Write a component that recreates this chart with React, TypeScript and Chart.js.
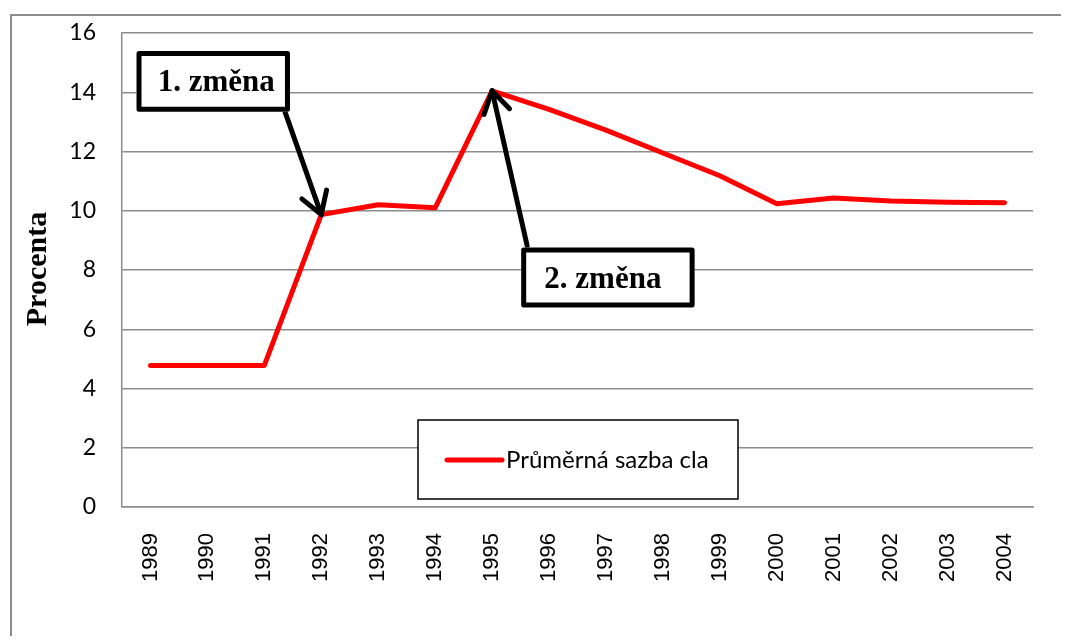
import React, { useEffect, useRef } from "react";
import { Chart, registerables } from "chart.js";

Chart.register(...registerables);

const years = ["1989", "1990", "1991", "1992", "1993", "1994", "1995", "1996", "1997", "1998", "1999", "2000", "2001", "2002", "2003", "2004"];
const averageTariff = [4.78, 4.78, 4.78, 9.87, 10.2, 10.1, 14.05, 13.42, 12.72, 11.95, 11.18, 10.24, 10.43, 10.33, 10.29, 10.27];
const yTicks = [0, 2, 4, 6, 8, 10, 12, 14, 16];
const seriesLabel = "Průměrná sazba cla";
const yTitle = "Procenta";

// annotations: text, box (index/value), tail (index/value), tip = data point index
const annotations = [
  { text: "1. změna", box: [-0.245, 15.39, 2.45, 13.34], tail: [2.363, 13.34], tipIndex: 3, dx: 3 },
  { text: "2. změna", box: [6.511, 8.757, 9.557, 6.736], tail: [6.616, 8.82], tipIndex: 6, dx: -5 },
];

const W = 1053;
const H = 628;

export default function App() {
  const ref = useRef<HTMLCanvasElement>(null);
  useEffect(() => {
    const canvas = ref.current!;
    const overlay = {
      id: "overlay",
      afterDraw(chart: any) {
        const ctx = chart.ctx as CanvasRenderingContext2D;
        const xs = chart.scales.x;
        const ys = chart.scales.y;
        ctx.save();
        // outer frame
        ctx.strokeStyle = "#8c8c8c";
        ctx.lineWidth = 2;
        ctx.beginPath();
        ctx.moveTo(3, H + 5);
        ctx.lineTo(3, 7);
        ctx.lineTo(W + 5, 7);
        ctx.stroke();

        // y title
        ctx.save();
        ctx.translate(30, 261);
        ctx.rotate(-Math.PI / 2);
        ctx.fillStyle = "#000";
        ctx.font = "bold 30px 'Liberation Serif'";
        ctx.textAlign = "center";
        ctx.textBaseline = "middle";
        ctx.fillText(yTitle, 0, 0);
        ctx.restore();

        // legend
        const lx = 410, ly = 412, lw = 320, lh = 79;
        ctx.fillStyle = "#fff";
        ctx.fillRect(lx, ly, lw, lh);
        ctx.strokeStyle = "#000";
        ctx.lineWidth = 1.5;
        ctx.strokeRect(lx, ly, lw, lh);
        ctx.strokeStyle = "#ff0000";
        ctx.lineWidth = 5;
        ctx.lineCap = "round";
        ctx.beginPath();
        ctx.moveTo(lx + 29, ly + 40);
        ctx.lineTo(lx + 84, ly + 40);
        ctx.stroke();
        ctx.fillStyle = "#000";
        ctx.font = "24px Lato";
        ctx.textAlign = "left";
        ctx.textBaseline = "middle";
        ctx.fillText(seriesLabel, lx + 88, ly + 40);

        // annotations
        for (const a of annotations) {
          const tipX = xs.getPixelForValue(a.tipIndex);
          const tipY = ys.getPixelForValue(averageTariff[a.tipIndex]);
          const tx = xs.getPixelForValue(a.tail[0]);
          const ty = ys.getPixelForValue(a.tail[1]);
          ctx.strokeStyle = "#000";
          ctx.lineWidth = 5;
          ctx.lineCap = "round";
          ctx.lineJoin = "round";
          ctx.beginPath();
          ctx.moveTo(tx, ty);
          ctx.lineTo(tipX, tipY);
          ctx.stroke();
          const ang = Math.atan2(tipY - ty, tipX - tx);
          const len = 25;
          const spread = 0.55;
          ctx.beginPath();
          ctx.moveTo(tipX - len * Math.cos(ang - spread), tipY - len * Math.sin(ang - spread));
          ctx.lineTo(tipX, tipY);
          ctx.lineTo(tipX - len * Math.cos(ang + spread), tipY - len * Math.sin(ang + spread));
          ctx.stroke();

          const bx1 = xs.getPixelForValue(a.box[0]);
          const by1 = ys.getPixelForValue(a.box[1]);
          const bx2 = xs.getPixelForValue(a.box[2]);
          const by2 = ys.getPixelForValue(a.box[3]);
          ctx.fillStyle = "#fff";
          ctx.fillRect(bx1, by1, bx2 - bx1, by2 - by1);
          ctx.lineWidth = 5;
          ctx.lineJoin = "round";
          ctx.strokeRect(bx1 + 2.5, by1 + 2.5, bx2 - bx1 - 5, by2 - by1 - 5);
          ctx.fillStyle = "#000";
          ctx.font = "bold 31px 'Liberation Serif'";
          ctx.textAlign = "center";
          ctx.textBaseline = "middle";
          ctx.fillText(a.text, (bx1 + bx2) / 2 + a.dx, (by1 + by2) / 2 + 2);
        }
        ctx.restore();
      },
    };

    const chart = new Chart(canvas, {
      type: "line",
      data: {
        labels: years,
        datasets: [
          {
            label: seriesLabel,
            data: averageTariff,
            borderColor: "#ff0000",
            backgroundColor: "#ff0000",
            borderWidth: 5,
            pointRadius: 0,
            tension: 0,
            borderCapStyle: "round",
            borderJoinStyle: "round",
          },
        ],
      },
      options: {
        animation: false,
        responsive: false,
        devicePixelRatio: 1,
        layout: { padding: { left: 0, top: 25, right: 28, bottom: 0 } },
        plugins: { legend: { display: false }, tooltip: { enabled: false } },
        scales: {
          x: {
            offset: true,
            grid: { display: false, drawTicks: false },
            border: { display: true, color: "#8c8c8c", width: 1.5 },
            ticks: {
              maxRotation: 90,
              minRotation: 90,
              padding: 26,
              color: "#000",
              font: { family: "'Liberation Sans'", size: 22 },
              autoSkip: false,
            },
            afterFit: (s: any) => {
              s.height = 129;
              s.paddingLeft = 0;
              s.paddingRight = 0;
            },
          },
          y: {
            min: 0,
            max: 16,
            afterBuildTicks: (s: any) => {
              s.ticks = yTicks.map((v) => ({ value: v }));
            },
            grid: { color: "#8c8c8c", lineWidth: 1.5, drawTicks: false },
            border: { display: true, color: "#8c8c8c", width: 1.5 },
            ticks: {
              padding: 26,
              color: "#000",
              font: { family: "Lato", size: 23 },
            },
            afterFit: (s: any) => {
              s.width = 114;
              s.paddingTop = 0;
              s.paddingBottom = 0;
            },
          },
        },
      },
      plugins: [overlay],
    });
    return () => chart.destroy();
  }, []);
  return <canvas ref={ref} width={W} height={H} style={{ display: "block", width: W, height: H }} />;
}
